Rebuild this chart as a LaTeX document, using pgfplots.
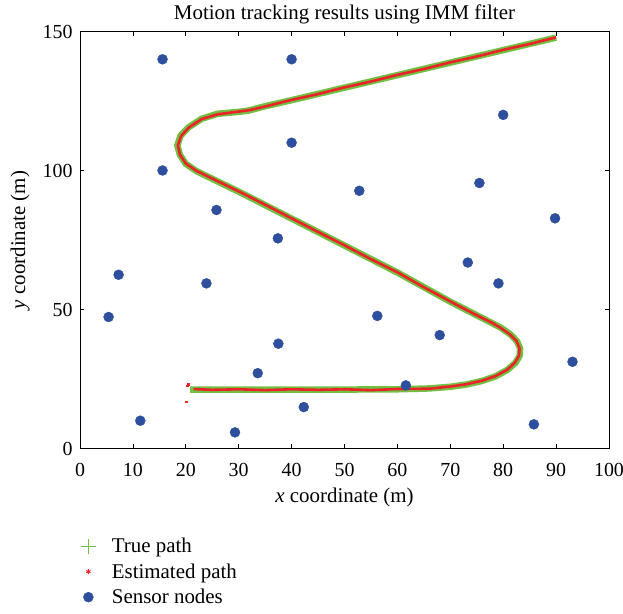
\documentclass[border=0pt]{standalone}
\usepackage{fontspec}
\setmainfont{Liberation Serif}
\usepackage{pgfplots}
\pgfplotsset{compat=1.18}
\definecolor{truegreen}{HTML}{72BF44}
\definecolor{estred}{HTML}{EC2227}
\definecolor{nodeblue}{HTML}{2D4F9E}

\begin{document}
\begin{tikzpicture}
\begin{axis}[
  scale only axis,
  width=529bp, height=417bp,
  xmin=0, xmax=100, ymin=0, ymax=150,
  xtick={0,10,...,100}, ytick={0,50,100,150},
  font=\fontsize{20}{24}\selectfont,
  /pgf/number format/assume math mode=true,
  tick style={black, line width=0.8pt},
  axis line style={line width=0.9pt},
  major tick length=4.5bp,
  x tick label style={yshift=-11bp},
  y tick label style={xshift=-4bp},
  title={Motion tracking results using IMM filter},
  title style={at={(axis description cs:0.5,1.027)}, anchor=center, font=\fontsize{21}{24}\selectfont},
  xlabel={\textit{x} coordinate (m)},
  xlabel style={at={(axis description cs:0.5,-0.1163)}, anchor=center, font=\fontsize{21}{24}\selectfont},
  ylabel={\textit{y} coordinate (m)},
  ylabel style={at={(axis description cs:-0.1134,0.5)}, anchor=center, font=\fontsize{21}{24}\selectfont},
  legend style={draw=none, fill=none, at={(rel axis cs:0,0)}, anchor=north west,
    xshift=-2.3bp, yshift=-85.5bp, row sep=5.5bp, font=\fontsize{21}{24}\selectfont,
    /tikz/every odd column/.append style={column sep=14bp}},
  legend cell align=left,
]
\coordinate (bl) at (rel axis cs:0,0);
\coordinate (tr) at (rel axis cs:1,1);
\addlegendimage{only marks, mark=+, mark size=7.5bp, truegreen, line width=0.7pt}
\addlegendentry{True path}
\addlegendimage{only marks, mark=asterisk, mark size=2.5bp, estred, line width=0.9pt}
\addlegendentry{Estimated path}
\addlegendimage{only marks, mark=*, mark size=5bp, nodeblue}
\addlegendentry{Sensor nodes}

% true path
\addplot[forget plot, truegreen, line width=6.5bp, line join=round] coordinates {
(20.8,21.2) (30,21.2) (40,21.2) (50,21.2) (60,21.3) (66,21.6) (70,22.2) (73,23.0)
(76,24.3) (78.6,26.0) (80.8,28.3) (82.3,30.8) (83.1,33.3) (83.2,36.0)
(82.6,38.6) (81.4,41.0) (79.6,43.4) (78.0,45.0) (70,52.8) (60,63.3) (50,73.0)
(40,82.7) (30,92.4) (25,97.0) (22,99.8) (20,102.4) (18.9,105.6) (18.4,109.0)
(19,112.5) (20.5,115.5) (23,118.6) (26,120.4) (30,121.1) (32,121.6) (34.5,122.9)
(40,125.3) (50,129.8) (60,134.3) (70,138.8) (80,143.3) (90,147.8)
};
% estimated path
\addplot[forget plot, estred, line width=2.6bp, line join=round] coordinates {
(21.5,21.4) (25,21.1) (30,21.3) (35,21.0) (40,21.3) (45,21.1) (50,21.3) (55,21.0)
(60,21.4) (66,21.5) (70,22.3) (73,23.1) (76,24.4) (78.6,26.1) (80.8,28.4) (82.2,30.9)
(83.0,33.4) (83.1,36.0) (82.5,38.7) (81.3,41.0) (79.5,43.4) (78.0,45.1) (74,48.9)
(70,52.9) (65,58.0) (60,63.4) (55,68.1) (50,73.1) (45,77.9) (40,82.8) (35,87.7)
(30,92.5) (25,97.1) (22,99.9) (20,102.5) (18.9,105.7) (18.5,109.0) (19.1,112.4)
(20.6,115.5) (23,118.5) (26,120.2) (30,121.2) (32,121.7) (34.5,122.8) (40,125.4)
(45,127.5) (50,129.9) (55,132.0) (60,134.4) (65,136.5) (70,138.9) (75,141.0)
(80,143.4) (85,145.5) (90,147.9)
};
\addplot[forget plot, only marks, mark=square*, mark size=0.9bp, estred] coordinates {
(20.3,22.6) (20.5,23.1) (20.1,16.8)
};
% sensor nodes
\addplot[forget plot, only marks, mark=*, mark size=5bp, nodeblue] coordinates {
(15.6,140.0) (40.0,140.0) (40.0,110.0) (15.6,100.0) (25.8,85.8) (37.4,75.6)
(80.0,120.0) (52.8,92.7) (75.5,95.5) (89.8,82.8) (7.3,62.5) (23.9,59.4)
(5.4,47.3) (37.5,37.7) (33.6,27.1) (42.3,14.9) (11.4,10.0) (29.3,5.8)
(73.3,66.9) (79.1,59.4) (56.2,47.7) (68.0,40.8) (93.1,31.2) (61.6,22.7) (85.8,8.7)
};
\end{axis}
\pgfresetboundingbox
\path ([shift={(-80bp,-165.5bp)}]bl) rectangle ([shift={(14bp,31.5bp)}]tr);
\end{tikzpicture}
\end{document}
